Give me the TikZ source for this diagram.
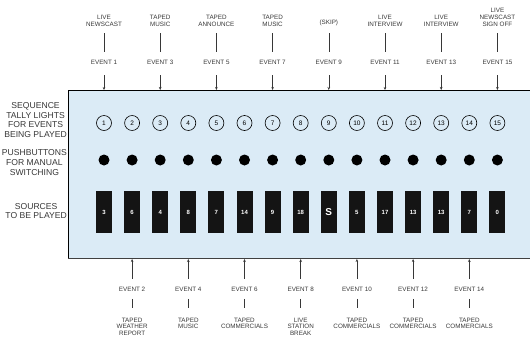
\documentclass[tikz,border=0pt]{standalone}
\usepackage{fontspec}
\setmainfont{Liberation Sans}
\usetikzlibrary{arrows.meta}
\definecolor{panelblue}{RGB}{219,235,246}
\definecolor{inkgray}{RGB}{55,55,55}
\tikzset{
  lab/.style={font=\fontsize{6.3}{6.8}\selectfont, text=inkgray, align=center, inner sep=0pt},
  sidelab/.style={font=\fontsize{8.6}{9.8}\selectfont, text=inkgray, align=center, inner sep=0pt, anchor=east},
  tally/.style={circle, draw=black, line width=0.6pt, minimum size=15pt, inner sep=0pt, font=\fontsize{6.5}{6.5}\selectfont},
  pushb/.style={circle, fill=black, minimum size=11pt, inner sep=0pt},
  srcbox/.style={rectangle, fill=black!92, minimum width=16pt, minimum height=42pt, inner sep=0pt, text=white, font=\fontsize{6}{6}\selectfont\bfseries},
  conn/.style={line width=0.6pt, draw=inkgray},
  arr/.style={line width=0.6pt, draw=inkgray, -{Stealth[length=3pt,width=2.6pt]}}
}
\begin{document}
\begin{tikzpicture}[x=1pt,y=-1pt]
\useasboundingbox (0,0) rectangle (530,338);
% panel
\node[fill=panelblue, minimum width=462pt, minimum height=168pt, inner sep=0pt, anchor=north west] (panel) at (68,90) {};
\draw[line width=0.8pt] (panel.north east) -- (panel.north west) -- (panel.south west);
\draw[line width=1.2pt, draw=black!75] (panel.south west) -- (panel.south east);
% side labels
\node[sidelab] (lseq) at (67,120) {SEQUENCE\\TALLY LIGHTS\\FOR EVENTS\\BEING PLAYED};
\node[sidelab] (lpush) at (67,162.5) {PUSHBUTTONS\\FOR MANUAL\\SWITCHING};
\node[sidelab] (lsrc) at (67,211) {SOURCES\\TO BE PLAYED};
% columns
\foreach \i/\s in {1/3,2/6,3/4,4/8,5/7,6/14,7/9,8/18,9/{\fontsize{10}{10}\selectfont S},10/5,11/17,12/13,13/13,14/7,15/0}{
  \pgfmathsetmacro\xx{104+28.1*(\i-1)}
  \node[tally] (t\i) at (\xx,123) {\i};
  \node[pushb] (p\i) at (\xx,160) {};
  \node[srcbox] (s\i) at (\xx,212) {\s};
}
% top events (odd)
\foreach \i/\txt in {1/{LIVE\\NEWSCAST},3/{TAPED\\MUSIC},5/{TAPED\\ANNOUNCE},7/{TAPED\\MUSIC},9/{(SKIP)},11/{LIVE\\INTERVIEW},13/{LIVE\\INTERVIEW},15/{LIVE\\NEWSCAST\\SIGN OFF}}{
  \pgfmathsetmacro\xx{104+28.1*(\i-1)}
  \node[lab, anchor=south] (tl\i) at (\xx,26.5) {\txt};
  \node[lab] (te\i) at (\xx,62) {EVENT \i};
  \coordinate (ti\i) at (\xx,90);
  \draw[conn, shorten <=6.5pt, shorten >=7.5pt] (tl\i.south) -- (te\i.north);
  \draw[arr, shorten <=11pt] (te\i.south) -- (ti\i);
}
% bottom events (even)
\foreach \i/\txt in {2/{TAPED\\WEATHER\\REPORT},4/{TAPED\\MUSIC},6/{TAPED\\COMMERCIALS},8/{LIVE\\STATION\\BREAK},10/{TAPED\\COMMERCIALS},12/{TAPED\\COMMERCIALS},14/{TAPED\\COMMERCIALS}}{
  \pgfmathsetmacro\xx{104+28.1*(\i-1)}
  \node[lab] (be\i) at (\xx,289) {EVENT \i};
  \node[lab, anchor=north] (bl\i) at (\xx,317.5) {\txt};
  \coordinate (bi\i) at (\xx,259);
  \draw[arr, shorten <=8pt] (be\i.north) -- (bi\i);
  \draw[conn, shorten <=7.5pt, shorten >=9.5pt] (be\i.south) -- (bl\i.north);
}
\end{tikzpicture}
\end{document}
